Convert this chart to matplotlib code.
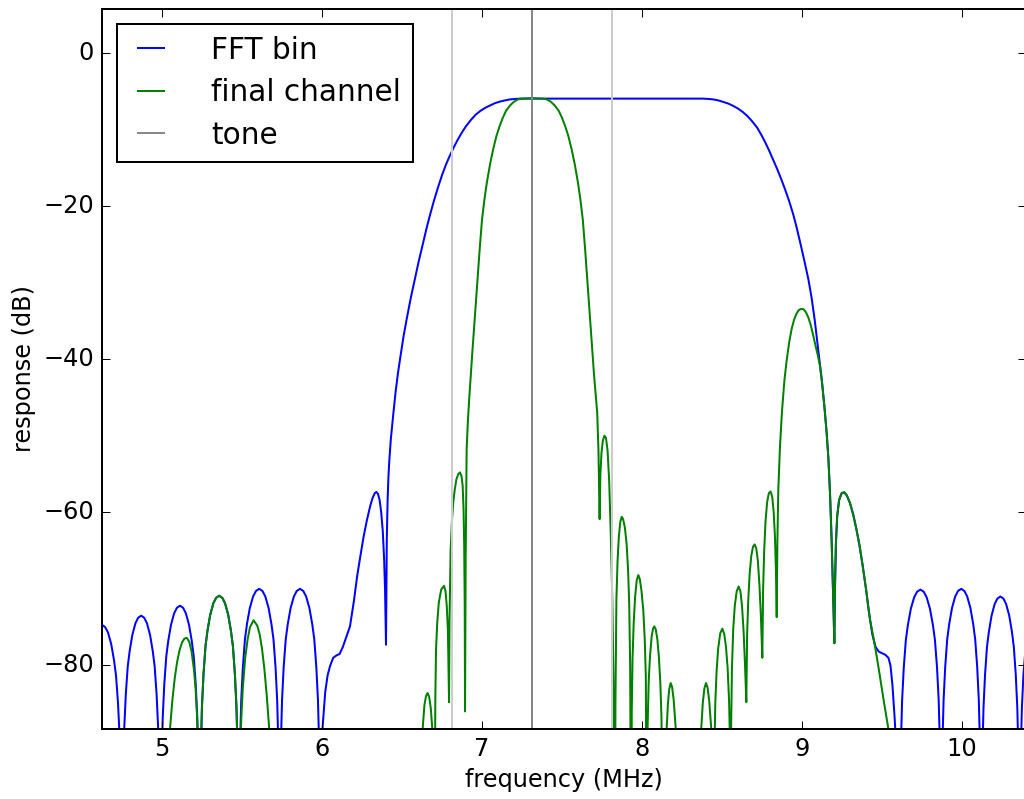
import numpy as np
import matplotlib
matplotlib.use("Agg")
import matplotlib.pyplot as plt

# FFT bin response (MHz, dB)
fft_f = [4.625, 4.645, 4.6625, 4.6825, 4.70, 4.7125, 4.725, 4.735, 4.7425, 4.75,
         4.7572, 4.7644, 4.774, 4.786, 4.798, 4.8148, 4.834, 4.8508, 4.87,
         4.8892, 4.906, 4.9252, 4.942, 4.954, 4.966, 4.9756, 4.9828, 4.99,
         4.9974, 5.0047, 5.0145, 5.0268, 5.039, 5.0562, 5.0758, 5.0929, 5.1125,
         5.1321, 5.1493, 5.1689, 5.186, 5.1983, 5.2105, 5.2203, 5.2277, 5.235,
         5.2424, 5.2497, 5.2595, 5.2718, 5.284, 5.3012, 5.3208, 5.3379, 5.3575,
         5.3771, 5.3943, 5.4139, 5.431, 5.4433, 5.4555, 5.4653, 5.4727, 5.48,
         5.4877, 5.4953, 5.5055, 5.5183, 5.531, 5.5489, 5.5693, 5.5871, 5.6075,
         5.6279, 5.6458, 5.6662, 5.684, 5.6968, 5.7095, 5.7197, 5.7274, 5.735,
         5.7427, 5.7503, 5.7605, 5.7733, 5.786, 5.8039, 5.8243, 5.8421, 5.8625,
         5.8829, 5.9008, 5.9212, 5.939, 5.9518, 5.9645, 5.9747, 5.9824, 5.99,
         5.995, 6.004, 6.02, 6.035, 6.05, 6.07, 6.09, 6.11, 6.13, 6.15, 6.175,
         6.20, 6.22, 6.24, 6.26, 6.28, 6.30, 6.315, 6.33, 6.34, 6.35, 6.36, 6.37,
         6.38, 6.388, 6.394, 6.40,
         6.402, 6.405, 6.41, 6.415, 6.42, 6.43, 6.445, 6.46, 6.475, 6.49, 6.51,
         6.53, 6.555, 6.58, 6.605, 6.63, 6.655, 6.675, 6.70, 6.725, 6.75, 6.775,
         6.80, 6.825, 6.85, 6.875, 6.90, 6.93, 6.96, 6.99, 7.02, 7.05, 7.08, 7.11,
         7.14, 7.17, 7.20, 7.24,
         8.38, 8.42, 8.45, 8.48, 8.51, 8.54, 8.57, 8.60, 8.63, 8.66, 8.69, 8.72,
         8.745, 8.77, 8.795, 8.82, 8.845, 8.87, 8.895, 8.92, 8.945, 8.965, 8.99,
         9.015, 9.04, 9.06, 9.08, 9.095,
         9.1125, 9.125, 9.14, 9.154, 9.165, 9.175, 9.185, 9.193, 9.198, 9.202,
         9.206, 9.212, 9.22, 9.232, 9.248, 9.264, 9.28, 9.30, 9.32, 9.34, 9.36,
         9.38, 9.40, 9.415, 9.425,
         9.44, 9.46, 9.48, 9.50, 9.52, 9.54, 9.553, 9.565, 9.578, 9.59, 9.60, 9.61,
         9.6178, 9.6256, 9.636, 9.649, 9.662, 9.6802, 9.701, 9.7192, 9.74,
         9.7608, 9.779, 9.7998, 9.818, 9.831, 9.844, 9.8544, 9.8622, 9.87,
         9.8775, 9.885, 9.895, 9.9075, 9.92, 9.9375, 9.9575, 9.975, 9.995,
         10.015, 10.0325, 10.0525, 10.07, 10.0825, 10.095, 10.105, 10.1125, 10.12,
         10.1272, 10.1344, 10.144, 10.156, 10.168, 10.1848, 10.204, 10.2208, 10.24,
         10.2592, 10.276, 10.2952, 10.312, 10.324, 10.336, 10.3456, 10.3528, 10.36,
         10.3672, 10.3744, 10.384, 10.40]
fft_db = [-74.7, -75.0, -75.7, -77.2, -79.3, -81.3, -84.9, -89.2, -95.2, -110,
          -94.0, -88.0, -83.7, -80.1, -78.1, -76.0, -74.5, -73.78, -73.5,
          -73.78, -74.5, -76.0, -78.1, -80.1, -83.7, -88.0, -94.0, -110,
          -92.7, -86.7, -82.4, -78.8, -76.8, -74.7, -73.2, -72.48, -72.2,
          -72.48, -73.2, -74.7, -76.8, -78.8, -82.4, -86.7, -92.7, -110,
          -91.4, -85.4, -81.1, -77.5, -75.5, -73.4, -71.9, -71.18, -70.9,
          -71.18, -71.9, -73.4, -75.5, -77.5, -81.1, -85.4, -91.4, -110,
          -90.5, -84.5, -80.2, -76.6, -74.6, -72.5, -71.0, -70.28, -70.0,
          -70.28, -71.0, -72.5, -74.6, -76.6, -80.2, -84.5, -90.5, -110,
          -90.5, -84.5, -80.2, -76.6, -74.6, -72.5, -71.0, -70.28, -70.0,
          -70.28, -71.0, -72.5, -74.6, -76.6, -80.2, -84.5, -90.5, -110,
          -92.0, -88.0, -83.5, -81.3, -80.1, -79.0, -78.7, -78.5, -77.6, -76.4, -74.9,
          -71.5, -68.3, -65.7, -63.2, -61.1, -59.3, -58.2, -57.5, -57.35, -57.6, -58.4, -60.0,
          -62.5, -66.0, -70.0, -77.3,
          -71.0, -63.5, -58.5, -55.5, -53.5, -50.5, -47.3, -44.3, -41.8, -39.7, -37.0,
          -34.7, -32.0, -29.6, -27.2, -25.0, -22.8, -21.2, -19.3, -17.6, -16.0, -14.6,
          -13.4, -12.3, -11.3, -10.4, -9.6, -8.8, -8.1, -7.6, -7.2, -6.9, -6.6, -6.4,
          -6.25, -6.12, -6.05, -6.0,
          -6.0, -6.05, -6.12, -6.25, -6.45, -6.65, -6.95, -7.3, -7.75, -8.3, -9.0, -9.8,
          -10.7, -11.7, -12.8, -14.0, -15.2, -16.5, -17.9, -19.4, -21.1, -22.7, -24.9,
          -27.2, -29.6, -32.0, -35.0, -37.7,
          -40.9, -43.0, -46.2, -49.6, -53.0, -57.5, -63.5, -69.5, -73.5, -77.1,
          -70.0, -64.0, -60.5, -58.4, -57.5, -57.4, -57.8, -58.8, -60.3, -62.2, -64.4,
          -67.1, -70.0, -72.5, -74.0,
          -76.0, -77.6, -78.2, -78.4, -78.6, -79.0, -80.0, -82.5, -86.5, -91.0, -97.0, -110,
          -90.6, -84.6, -80.3, -76.7, -74.7, -72.6, -71.1, -70.38, -70.1,
          -70.38, -71.1, -72.6, -74.7, -76.7, -80.3, -84.6, -90.6, -110,
          -90.5, -84.5, -80.2, -76.6, -74.6, -72.5, -71.0, -70.28, -70.0,
          -70.28, -71.0, -72.5, -74.6, -76.6, -80.2, -84.5, -90.5, -110,
          -91.5, -85.5, -81.2, -77.6, -75.6, -73.5, -72.0, -71.28, -71.0,
          -71.28, -72.0, -73.5, -75.6, -77.6, -81.2, -85.5, -91.5, -110,
          -91.5, -85.5, -81.2, -77.0]

# final channel response
chan_f = [4.625, 5.03, 5.05, 5.065, 5.08, 5.095, 5.11, 5.125, 5.14, 5.155, 5.17,
          5.185, 5.20, 5.21, 5.22, 5.2277, 5.235,
          5.2424, 5.2497, 5.2595, 5.2718, 5.284, 5.3012, 5.3208, 5.3379, 5.3575,
          5.3771, 5.3943, 5.4139, 5.431, 5.4433, 5.4555, 5.4653, 5.4727, 5.48,
          5.4877, 5.4953, 5.505, 5.52, 5.535, 5.55, 5.5725, 5.595, 5.61, 5.625,
          5.64, 5.655, 5.67, 5.69,
          6.60, 6.62, 6.629, 6.64, 6.65, 6.66, 6.67, 6.68, 6.69, 6.696, 6.704,
          6.708, 6.7125, 6.72, 6.73, 6.745, 6.7625, 6.772, 6.78, 6.787, 6.794,
          6.797, 6.804, 6.812, 6.82, 6.83, 6.84, 6.852, 6.8625, 6.872, 6.879,
          6.8845, 6.8885, 6.892, 6.894,
          6.898, 6.904, 6.912, 6.92, 6.93, 6.94, 6.955, 6.97, 6.985, 7.00, 7.015,
          7.03, 7.05, 7.07, 7.09, 7.11, 7.13, 7.15, 7.175, 7.20, 7.225, 7.25, 7.315,
          7.38, 7.405, 7.43, 7.455, 7.48, 7.50, 7.52, 7.54, 7.56, 7.58, 7.60, 7.615,
          7.63, 7.645, 7.66, 7.675, 7.69, 7.70, 7.71, 7.72, 7.728, 7.735,
          7.74, 7.747, 7.755, 7.765, 7.775, 7.785, 7.795, 7.805, 7.815, 7.822, 7.83,
          7.834, 7.84, 7.847, 7.855, 7.864, 7.873, 7.882, 7.893, 7.904, 7.913, 7.92,
          7.926, 7.932,
          7.936, 7.941, 7.948, 7.957, 7.967, 7.977, 7.987, 7.997, 8.008, 8.017,
          8.024, 8.03,
          8.035, 8.042, 8.05, 8.06, 8.069, 8.077, 8.086, 8.096, 8.106, 8.115,
          8.122, 8.13,
          8.145, 8.154, 8.162, 8.17, 8.179, 8.188, 8.198, 8.21, 8.22, 8.30,
          8.36, 8.37, 8.38, 8.39, 8.40, 8.41, 8.42, 8.432, 8.44, 8.448,
          8.452, 8.458, 8.466, 8.476, 8.489, 8.502, 8.514, 8.525, 8.535, 8.544,
          8.55, 8.553,
          8.556, 8.562, 8.57, 8.58, 8.592, 8.604, 8.615, 8.625, 8.635, 8.644, 8.652,
          8.657, 8.664, 8.673, 8.683, 8.694, 8.704, 8.714, 8.724, 8.734, 8.743, 8.752,
          8.757, 8.764, 8.772, 8.782, 8.793, 8.804, 8.814, 8.823, 8.831, 8.837, 8.842,
          8.846, 8.852, 8.8625, 8.875, 8.89, 8.904, 8.92, 8.935, 8.95, 8.965, 8.98,
          8.995, 9.01, 9.025, 9.04, 9.055, 9.07, 9.085, 9.10,
          9.1125, 9.125, 9.14, 9.154, 9.165, 9.175, 9.185, 9.193, 9.198, 9.202,
          9.206, 9.212, 9.22, 9.232, 9.248, 9.264, 9.28, 9.30, 9.32, 9.34, 9.36,
          9.38, 9.40, 9.415, 9.425,
          9.445, 9.465, 9.48, 9.495, 9.51, 9.525, 9.54, 9.57, 10.40]
chan_db = [-120, -100, -88.3, -84.5, -81.6, -79.5, -78.0, -77.0, -76.5, -76.4, -76.9,
           -78.2, -80.6, -83.0, -87.0, -93.0, -110,
           -91.4, -85.4, -81.1, -77.5, -75.5, -73.4, -71.9, -71.18, -70.9,
           -71.18, -71.9, -73.4, -75.5, -77.5, -81.1, -85.4, -91.4, -110,
           -93.0, -87.0, -83.0, -79.0, -76.6, -75.0, -74.1, -74.8, -75.9, -77.8,
           -80.5, -84.0, -88.3, -95.0,
           -120, -95.0, -88.3, -85.2, -84.0, -83.6, -84.1, -85.6, -88.5, -92.0, -110,
           -85.0, -78.0, -74.5, -71.8, -70.1, -69.6, -70.3, -72.3, -75.5, -84.8,
           -74.0, -64.9, -61.2, -58.8, -57.0, -55.7, -55.0, -54.8, -55.3, -56.5,
           -59.5, -64.0, -72.0, -86.0,
           -66.0, -51.8, -48.0, -45.2, -42.0, -39.0, -34.5, -30.2, -25.8, -21.8, -19.2,
           -17.0, -14.6, -12.6, -10.9, -9.6, -8.5, -7.6, -6.9, -6.4, -6.1, -6.0, -5.95,
           -6.0, -6.1, -6.4, -6.9, -7.6, -8.5, -9.6, -10.9, -12.6, -14.6, -17.0, -19.2,
           -21.8, -25.8, -30.2, -34.5, -39.0, -42.0, -44.5, -47.0, -52.0, -60.9,
           -55.0, -52.2, -50.7, -50.0, -50.3, -52.0, -56.0, -63.0, -72.0, -82.0, -110,
           -85.0, -71.4, -66.5, -63.3, -61.3, -60.6, -60.9, -62.0, -64.2, -67.5, -72.0,
           -80.0, -110,
           -86.0, -79.0, -74.5, -71.0, -68.9, -68.2, -68.8, -70.3, -72.8, -76.5,
           -81.5, -110,
           -88.0, -82.0, -78.8, -76.3, -75.2, -74.9, -75.3, -76.6, -79.0, -82.5,
           -87.0, -110,
           -95.0, -88.3, -85.0, -83.1, -82.3, -82.8, -84.5, -88.0, -95.0, -120,
           -95.0, -88.3, -84.9, -83.0, -82.3, -82.9, -84.6, -88.0, -95.0, -110,
           -92.0, -85.0, -80.8, -77.8, -75.8, -75.2, -75.9, -77.6, -80.3, -84.5,
           -90.0, -110,
           -90.0, -80.5, -75.3, -72.2, -70.3, -69.7, -70.3, -72.2, -75.6, -80.0, -84.8,
           -76.0, -71.5, -68.0, -65.7, -64.5, -64.2, -64.7, -66.3, -69.5, -73.5, -79.0,
           -70.0, -64.8, -61.2, -58.7, -57.5, -57.3, -58.0, -60.0, -63.2, -67.5, -73.7,
           -64.0, -57.0, -51.4, -46.8, -42.8, -40.2, -37.8, -36.1, -34.9, -34.1, -33.6,
           -33.45, -33.5, -33.9, -34.6, -35.6, -36.9, -38.3, -39.6,
           -40.9, -43.0, -46.2, -49.6, -53.0, -57.5, -63.5, -69.5, -73.5, -77.1,
           -70.0, -64.0, -60.5, -58.4, -57.5, -57.4, -57.8, -58.8, -60.3, -62.2, -64.4,
           -67.1, -70.0, -72.5, -74.0,
           -76.2, -78.6, -80.5, -82.5, -84.5, -86.4, -88.3, -94.0, -120]

tone_f = 7.315
side_f = [6.815, 7.815]

plt.style.use('classic')
plt.rcParams['font.family'] = ['DejaVu Sans']
plt.rcParams['font.size'] = 17.3
plt.rcParams['axes.linewidth'] = 1.44
plt.rcParams['xtick.major.size'] = 5.8
plt.rcParams['ytick.major.size'] = 5.8
plt.rcParams['xtick.major.width'] = 0.72
plt.rcParams['ytick.major.width'] = 0.72
plt.rcParams['xtick.major.pad'] = 5.8
plt.rcParams['ytick.major.pad'] = 5.8

fig = plt.figure(figsize=(10.24, 7.99), dpi=100, facecolor='white')
ax = fig.add_axes([102/1024, 70/799, 924/1024, 720/799])

ax.plot(fft_f, fft_db, color='#0000ff', lw=1.44, label='FFT bin')
ax.plot(chan_f, chan_db, color='#008000', lw=1.44, label='final channel')
ax.axvline(tone_f, color='#888888', lw=1.44, label='tone')
for f in side_f:
    ax.axvline(f, color='#cccccc', lw=1.44)

ax.set_xlim(4.625, 10.4)
ax.set_ylim(-88.3, 5.7)
ax.set_xticks([5, 6, 7, 8, 9, 10])
ax.set_yticks([0, -20, -40, -60, -80])
ax.set_xlabel('frequency (MHz)')
ax.set_ylabel('response (dB)')

leg = ax.legend(loc='upper left', fontsize=21.3, handlelength=1.5,
                handletextpad=1.3, borderaxespad=0.5, labelspacing=0.46,
                borderpad=0.4, fancybox=False, framealpha=1)
leg.get_frame().set_linewidth(1.44)
leg.get_frame().set_edgecolor('black')

fig.savefig('out.png', dpi=100, facecolor='white')
